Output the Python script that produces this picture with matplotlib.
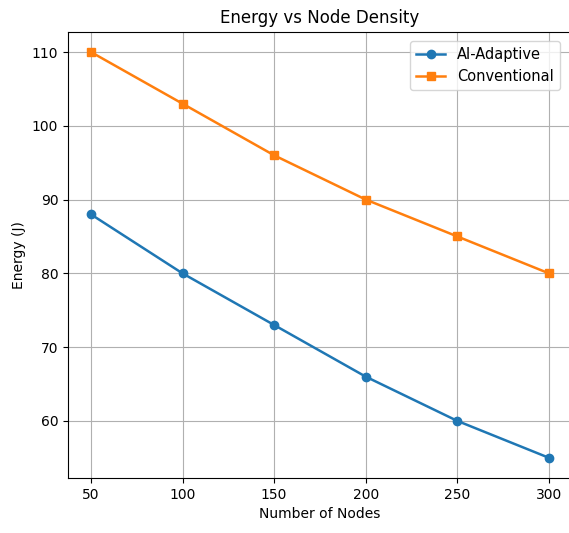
import matplotlib
matplotlib.use("Agg")
import matplotlib.pyplot as plt

nodes = [50, 100, 150, 200, 250, 300]
energy_ai = [88, 80, 73, 66, 60, 55]
energy_conv = [110, 103, 96, 90, 85, 80]

fig, ax = plt.subplots(figsize=(5.69, 5.33), dpi=100)
ax.plot(nodes, energy_ai, marker="o", linewidth=1.8, label="AI-Adaptive")
ax.plot(nodes, energy_conv, marker="s", linewidth=1.8, label="Conventional")
ax.set_title("Energy vs Node Density")
ax.set_xlabel("Number of Nodes")
ax.set_ylabel("Energy (J)")
ax.grid(True)
ax.legend(loc="upper right", bbox_to_anchor=(0.99, 0.995), fontsize=10.5)
# the original picture is cropped a little on the right, so the axes run past the edge
fig.subplots_adjust(left=0.1195, right=1.005, top=0.9405, bottom=0.103)
fig.savefig("out.png", dpi=100)
